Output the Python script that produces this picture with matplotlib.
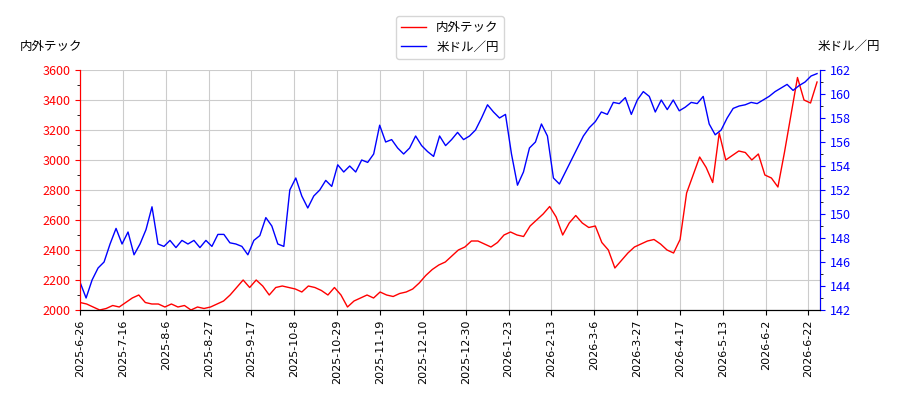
import matplotlib
matplotlib.use("Agg")
import matplotlib.pyplot as plt
import numpy as np
from matplotlib.ticker import MultipleLocator

plt.rcParams['font.family'] = ['Noto Sans CJK JP', 'DejaVu Sans']

stock = [2050,2040,2020,2000,2010,2030,2020,2050,2080,2100,2050,2040,2040,2020,2040,2020,2030,2000,2020,2010,
         2020,2040,2060,2100,2150,2200,2150,2200,2160,2100,2150,2160,2150,2140,2120,2160,2150,2130,2100,2150,
         2100,2020,2060,2080,2100,2080,2120,2100,2090,2110,2120,2140,2180,2230,2270,2300,2320,2360,2400,2420,
         2460,2460,2440,2420,2450,2500,2520,2500,2490,2560,2600,2640,2690,2620,2500,2580,2630,2580,2550,2560,
         2450,2400,2280,2330,2380,2420,2440,2460,2470,2440,2400,2380,2470,2780,2900,3020,2950,2850,3180,3000,
         3030,3060,3050,3000,3040,2900,2880,2820,3050,3300,3550,3400,3380,3520]
usd = [144.3,143.0,144.5,145.5,146.0,147.5,148.8,147.5,148.5,146.6,147.5,148.7,150.6,147.5,147.3,147.8,147.2,147.8,147.5,147.8,
       147.2,147.8,147.3,148.3,148.3,147.6,147.5,147.3,146.6,147.8,148.2,149.7,149.0,147.5,147.3,152.0,153.0,151.5,150.5,151.5,
       152.0,152.8,152.3,154.1,153.5,154.0,153.5,154.5,154.3,155.0,157.4,156.0,156.2,155.5,155.0,155.5,156.5,155.7,155.2,154.8,
       156.5,155.7,156.2,156.8,156.2,156.5,157.0,158.0,159.1,158.5,158.0,158.3,155.0,152.4,153.5,155.5,156.0,157.5,156.5,153.0,
       152.5,153.5,154.5,155.5,156.5,157.2,157.7,158.5,158.3,159.3,159.2,159.7,158.3,159.5,160.2,159.8,158.5,159.5,158.7,159.5,
       158.6,158.9,159.3,159.2,159.8,157.5,156.6,157.0,158.0,158.8,159.0,159.1,159.3,159.2,159.5,159.8,160.2,160.5,160.8,160.3,
       160.7,161.0,161.5,161.7]
tick_labels = ['2025-6-26','2025-7-16','2025-8-6','2025-8-27','2025-9-17','2025-10-8','2025-10-29','2025-11-19',
               '2025-12-10','2025-12-30','2026-1-23','2026-2-13','2026-3-6','2026-3-27','2026-4-17','2026-5-13',
               '2026-6-2','2026-6-22']
n_days = 259  # trading-day span

fig = plt.figure(figsize=(9, 4), dpi=100)
ax = fig.add_axes([0.089, 0.225, 0.822, 0.6])
ax2 = ax.twinx()
l1, = ax.plot(np.linspace(0, n_days - 1, len(stock)), stock, color='red', lw=1, label='内外テック')
l2, = ax2.plot(np.linspace(0, n_days - 1, len(usd)), usd, color='blue', lw=1, label='米ドル／円')
ax.set_ylim(2000, 3600)
ax.set_yticks(range(2000, 3601, 200))
ax.yaxis.set_minor_locator(MultipleLocator(100))
ax2.set_ylim(142, 162)
ax2.set_yticks(range(142, 163, 2))
ax2.yaxis.set_minor_locator(MultipleLocator(1))
ax.set_xticks([15 * i for i in range(len(tick_labels))])
ax.set_xticklabels(tick_labels, rotation=90, fontsize=8, family='DejaVu Sans')
ax.set_xlim(0, n_days)
ax.grid(True, color='#cccccc')
ax.tick_params(axis='y', colors='red', labelsize=9)
ax2.tick_params(axis='y', colors='blue', labelsize=9)
for a in (ax, ax2):
    a.spines['top'].set_visible(False)
ax2.spines['left'].set_color('red')
ax2.spines['right'].set_color('blue')
ax.spines['left'].set_color('red')
fig.text(0.022, 0.875, '内外テック', fontsize=9)
fig.text(0.978, 0.875, '米ドル／円', fontsize=9, ha='right')
fig.legend(handles=[l1, l2], loc='upper center', bbox_to_anchor=(0.5, 0.975), fontsize=9)
fig.savefig('out.png')
